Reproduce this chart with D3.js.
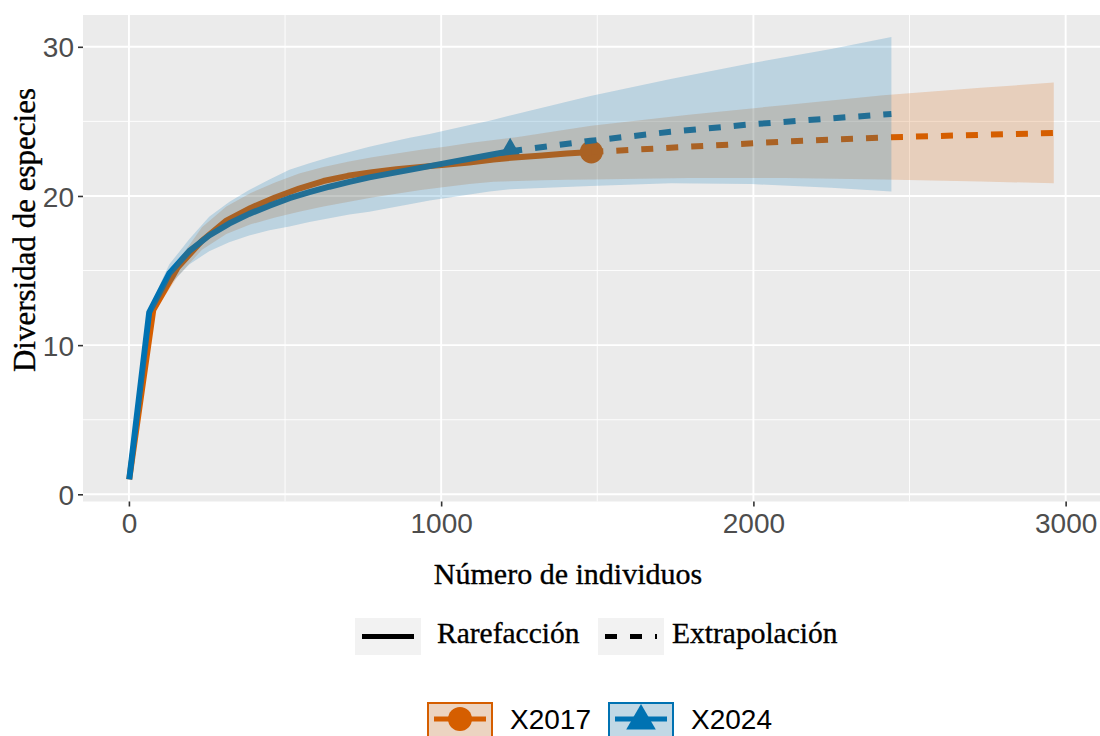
<!DOCTYPE html>
<html>
<head>
<meta charset="utf-8">
<script src="https://cdn.jsdelivr.net/npm/d3@7"></script>
<style>
  body { margin: 0; background: #ffffff; }
  svg { display: block; }
</style>
</head>
<body>
<svg id="chart" width="1100" height="736"></svg>
<script>
// Species accumulation (rarefaction / extrapolation) for two sampling years
const sites = ["X2017", "X2024"];
const siteColors = ["#D55E00", "#0072B2"];
const observedN = [1481, 1221];

// X2017: sample size, estimated richness and 95% confidence limits
const m2017   = [1, 78, 156, 234, 312, 390, 468, 545, 623, 701, 779, 857, 935, 1012, 1090, 1168, 1246, 1324, 1402, 1481,
                 1793, 2104, 2416, 2728, 2962];
const qD2017  = [1.0, 12.35, 15.2, 17.0, 18.35, 19.2, 19.9, 20.5, 21.0, 21.35, 21.6, 21.8, 21.95, 22.1, 22.25, 22.45, 22.6, 22.72, 22.85, 22.95,
                 23.3, 23.65, 23.92, 24.1, 24.22];
const lcl2017 = [1.0, 12.1, 14.6, 16.4, 17.45, 18.1, 18.55, 18.95, 19.3, 19.6, 19.9, 20.15, 20.4, 20.6, 20.8, 20.95, 21.0, 21.05, 21.08, 21.1,
                 21.2, 21.2, 21.1, 20.97, 20.85];
const ucl2017 = [1.0, 12.6, 15.6, 17.9, 19.3, 20.2, 20.9, 21.5, 21.95, 22.3, 22.6, 22.85, 23.1, 23.3, 23.55, 23.75, 23.95, 24.2, 24.45, 24.7,
                 25.45, 26.1, 26.75, 27.25, 27.6];

// X2024
const m2024   = [1, 65, 129, 193, 257, 321, 385, 450, 514, 578, 642, 706, 770, 834, 899, 963, 1027, 1091, 1155, 1221,
                 1478, 1735, 1992, 2249, 2442];
const qD2024  = [1.0, 12.2, 14.8, 16.3, 17.35, 18.15, 18.8, 19.35, 19.85, 20.25, 20.62, 20.95, 21.25, 21.5, 21.75, 22.0, 22.25, 22.5, 22.75, 23.0,
                 23.7, 24.3, 24.8, 25.2, 25.5];
const lcl2024 = [1.0, 11.9, 14.0, 15.4, 16.3, 16.9, 17.35, 17.7, 17.95, 18.25, 18.5, 18.75, 18.95, 19.2, 19.45, 19.7, 19.9, 20.1, 20.3, 20.45,
                 20.67, 20.85, 20.8, 20.55, 20.3];
const ucl2024 = [1.0, 12.5, 15.4, 17.1, 18.6, 19.6, 20.4, 21.1, 21.75, 22.2, 22.6, 22.95, 23.3, 23.6, 23.9, 24.15, 24.45, 24.75, 25.05, 25.4,
                 26.7, 27.85, 28.9, 29.85, 30.65];

const xTicks = [0, 1000, 2000, 3000];
const xMinorTicks = [500, 1500, 2500];
const yTicks = [0, 10, 20, 30];
const yMinorTicks = [5, 15, 25];
const methodLabels = ["Rarefacción", "Extrapolación"];
const xTitle = "Número de individuos";
const yTitle = "Diversidad de especies";

const series = [
  { site: sites[0], color: siteColors[0], n: observedN[0], m: m2017, qD: qD2017, lcl: lcl2017, ucl: ucl2017, shape: "circle" },
  { site: sites[1], color: siteColors[1], n: observedN[1], m: m2024, qD: qD2024, lcl: lcl2024, ucl: ucl2024, shape: "triangle" }
].map(s => ({
  ...s,
  rows: s.m.map((m, i) => ({ m, qD: s.qD[i], lcl: s.lcl[i], ucl: s.ucl[i] }))
}));

const panel = { left: 83, right: 1100, top: 15, bottom: 501.5 };
const sansFont = "'Liberation Sans', Arial, sans-serif";
const serifFont = "'Liberation Serif', 'Times New Roman', serif";

// ggplot-like 5% expansion of the data range
function expand([a, b], f = 0.05) { const d = (b - a) * f; return [a - d, b + d]; }
const allM = series.flatMap(s => s.m);
const allY = series.flatMap(s => s.lcl.concat(s.ucl));
const x = d3.scaleLinear().domain(expand(d3.extent(allM))).range([panel.left, panel.right]);
const y = d3.scaleLinear().domain(expand(d3.extent(allY))).range([panel.bottom, panel.top]);

const svg = d3.select("#chart");

// Panel background and grid
svg.append("rect")
  .attr("x", panel.left).attr("y", panel.top)
  .attr("width", panel.right - panel.left).attr("height", panel.bottom - panel.top)
  .attr("fill", "#EBEBEB");

const grid = svg.append("g");
grid.selectAll(".xminor").data(xMinorTicks).join("line")
  .attr("x1", d => x(d)).attr("x2", d => x(d))
  .attr("y1", panel.top).attr("y2", panel.bottom)
  .attr("stroke", "#ffffff").attr("stroke-width", 0.9);
grid.selectAll(".yminor").data(yMinorTicks).join("line")
  .attr("y1", d => y(d)).attr("y2", d => y(d))
  .attr("x1", panel.left).attr("x2", panel.right)
  .attr("stroke", "#ffffff").attr("stroke-width", 0.9);
grid.selectAll(".xmajor").data(xTicks).join("line")
  .attr("x1", d => x(d)).attr("x2", d => x(d))
  .attr("y1", panel.top).attr("y2", panel.bottom)
  .attr("stroke", "#ffffff").attr("stroke-width", 1.9);
grid.selectAll(".ymajor").data(yTicks).join("line")
  .attr("y1", d => y(d)).attr("y2", d => y(d))
  .attr("x1", panel.left).attr("x2", panel.right)
  .attr("stroke", "#ffffff").attr("stroke-width", 1.9);

// Axes
const xAxis = svg.append("g")
  .attr("transform", `translate(0,${panel.bottom})`)
  .call(d3.axisBottom(x).tickValues(xTicks).tickFormat(d3.format("d")).tickSize(5).tickPadding(6));
const yAxis = svg.append("g")
  .attr("transform", `translate(${panel.left},0)`)
  .call(d3.axisLeft(y).tickValues(yTicks).tickFormat(d3.format("d")).tickSize(5).tickPadding(4));
[xAxis, yAxis].forEach(g => {
  g.select(".domain").remove();
  g.selectAll(".tick line").attr("stroke", "#333333").attr("stroke-width", 1.6);
  g.selectAll(".tick text")
    .attr("fill", "#4D4D4D")
    .style("font-family", sansFont)
    .style("font-size", "28px");
});
yAxis.selectAll(".tick text").attr("dy", "0.36em");
xAxis.selectAll(".tick text").attr("dy", "0.72em");

// Axis titles
const titleStyle = sel => sel
  .style("font-family", serifFont).attr("fill", "#000")
  .attr("stroke", "#000").attr("stroke-width", 0.35);
svg.append("text")
  .attr("x", 568).attr("y", 584)
  .attr("text-anchor", "middle")
  .style("font-size", "30px")
  .call(titleStyle)
  .text(xTitle);
svg.append("text")
  .attr("transform", "translate(35,230) rotate(-90)")
  .attr("text-anchor", "middle")
  .style("font-size", "31px")
  .call(titleStyle)
  .text(yTitle);

const plot = svg.append("g");
const lineGen = d3.line().x(d => x(d.m)).y(d => y(d.qD));
const areaGen = d3.area().x(d => x(d.m)).y0(d => y(d.lcl)).y1(d => y(d.ucl));
const triangle = d3.symbol().type(d3.symbolTriangle).size(235);
const lineWidth = 6;
const dash = "12,13";

// Observed sample points
series.forEach(s => {
  const obs = s.rows.find(r => r.m === s.n);
  if (s.shape === "circle") {
    plot.append("circle").attr("cx", x(obs.m)).attr("cy", y(obs.qD)).attr("r", 11.5).attr("fill", s.color);
  } else {
    plot.append("path").attr("d", triangle())
      .attr("transform", `translate(${x(obs.m)},${y(obs.qD)})`).attr("fill", s.color);
  }
});

// Rarefaction (solid) and extrapolation (dashed) curves
series.forEach(s => {
  plot.append("path").datum(s.rows.filter(r => r.m <= s.n))
    .attr("d", lineGen).attr("fill", "none").attr("stroke", s.color)
    .attr("stroke-width", lineWidth).attr("stroke-linejoin", "round").attr("stroke-linecap", "butt");
});
series.forEach(s => {
  plot.append("path").datum(s.rows.filter(r => r.m >= s.n))
    .attr("d", lineGen).attr("fill", "none").attr("stroke", s.color)
    .attr("stroke-width", lineWidth).attr("stroke-dasharray", dash).attr("stroke-linecap", "butt");
});

// Confidence bands drawn on top, translucent
series.forEach(s => {
  plot.append("path").datum(s.rows)
    .attr("d", areaGen).attr("fill", s.color).attr("fill-opacity", 0.2).attr("stroke", "none");
});

// Legend: line type
const keyBg = "#F2F2F2";
const lg1 = svg.append("g");
const lt = [
  { x: 355, tx: 437, label: methodLabels[0], dash: null },
  { x: 598, tx: 672, label: methodLabels[1], dash: dash }
];
lt.forEach(k => {
  lg1.append("rect").attr("x", k.x).attr("y", 618).attr("width", 66).attr("height", 37).attr("fill", keyBg);
  const ln = lg1.append("line").attr("x1", k.x + 7).attr("x2", k.x + 59).attr("y1", 636.5).attr("y2", 636.5)
    .attr("stroke", "#000").attr("stroke-width", 5);
  if (k.dash) ln.attr("stroke-dasharray", dash);
  lg1.append("text").attr("x", k.tx).attr("y", 643)
    .style("font-size", "29.5px").call(titleStyle).text(k.label);
});

// Legend: sites
const lg2 = svg.append("g");
const siteKeys = [{ x: 427, s: series[0] }, { x: 608, s: series[1] }];
siteKeys.forEach(k => {
  const cx = k.x + 33, cy = 719;
  lg2.append("rect").attr("x", k.x).attr("y", 702).attr("width", 66).attr("height", 37).attr("fill", keyBg);
  lg2.append("line").attr("x1", k.x + 7).attr("x2", k.x + 59).attr("y1", cy).attr("y2", cy)
    .attr("stroke", k.s.color).attr("stroke-width", 5);
  if (k.s.shape === "circle") {
    lg2.append("circle").attr("cx", cx).attr("cy", cy).attr("r", 12).attr("fill", k.s.color);
  } else {
    lg2.append("path").attr("d", d3.symbol().type(d3.symbolTriangle).size(380)())
      .attr("transform", `translate(${cx},${cy + 2})`).attr("fill", k.s.color);
  }
  lg2.append("rect").attr("x", k.x + 1).attr("y", 703).attr("width", 64).attr("height", 35)
    .attr("fill", k.s.color).attr("fill-opacity", 0.2)
    .attr("stroke", k.s.color).attr("stroke-width", 2);
  lg2.append("text").attr("x", k.x + 83).attr("y", 729)
    .style("font-family", sansFont).style("font-size", "28px").attr("fill", "#000").text(k.s.site);
});
</script>
</body>
</html>
